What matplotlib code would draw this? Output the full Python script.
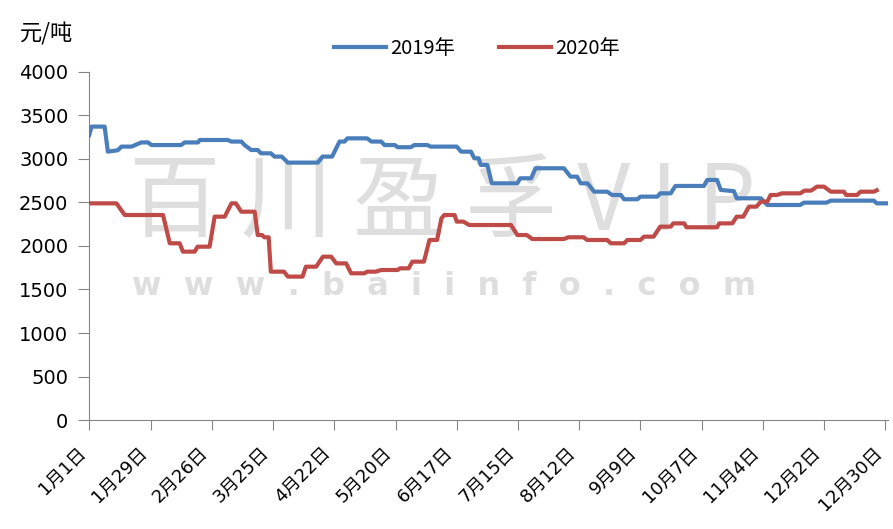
import matplotlib
matplotlib.use('Agg')
import matplotlib.pyplot as plt

plt.rcParams['font.family'] = ['DejaVu Sans', 'Noto Sans CJK SC']

# day offsets from 1月1日 and price (元/吨)
days_2019 = [0, 1, 7, 8.5, 13, 14.7, 19.3, 23.8, 26.9, 28.4, 42, 43.6, 49.7, 50.5, 63.4, 64.9,
             69.5, 71, 74, 77, 78.5, 83, 84.7, 88, 90.8, 104.5, 106.6, 111, 114.4, 116.7, 118,
             127, 129, 133.4, 135, 139.7, 141, 147, 148.6, 154.6, 156, 168, 170, 174.5, 176,
             178, 179, 182, 184, 195.7, 197, 202, 204, 217, 220, 223, 224.7, 227.8, 230.8,
             236.8, 239, 243, 244.5, 250.6, 252, 259.7, 261, 265.8, 268, 281, 282.5, 287,
             288.7, 294.7, 296, 307, 310, 325, 326.7, 337, 339, 358.7, 360, 364.6]
price_2019 = [3276, 3372, 3372, 3084, 3100, 3142, 3142, 3190, 3190, 3160, 3160, 3190, 3190, 3218,
              3218, 3200, 3200, 3160, 3103, 3103, 3065, 3065, 3027, 3027, 2958, 2958, 3027, 3027,
              3200, 3200, 3237, 3237, 3200, 3200, 3160, 3160, 3135, 3135, 3160, 3160, 3142, 3142,
              3084, 3084, 3008, 3008, 2931, 2931, 2720, 2720, 2778, 2778, 2893, 2893, 2797, 2797,
              2720, 2720, 2624, 2624, 2586, 2586, 2537, 2537, 2567, 2567, 2605, 2605, 2690, 2690,
              2759, 2759, 2644, 2630, 2548, 2548, 2471, 2471, 2498, 2498, 2521, 2521, 2490, 2490]

days_2020 = [0, 12.4, 16.2, 33.7, 36.8, 41.3, 42.8, 48.2, 49.5, 55, 57.3, 61.9, 65, 67, 69.5,
             75.6, 77, 79, 80, 82, 83, 89, 90.8, 97.5, 99, 103.7, 106.8, 110.6, 112.9, 117.4,
             119.7, 125.8, 127, 131, 133.4, 141, 142, 146, 147.7, 153, 155.5, 159, 161, 162.3,
             167, 168, 171, 173.7, 192.8, 195.7, 200, 202.5, 217, 219, 226, 227.6, 236.8, 238.4,
             244.5, 246, 252, 253.6, 258, 261, 265.8, 267, 272, 273, 287, 288, 294, 296, 299,
             301.6, 305, 307, 310, 311.5, 314.4, 316.7, 325, 327, 330, 332.7, 335.9, 339, 345,
             346, 351, 352.6, 358.7, 360]
price_2020 = [2490, 2490, 2356, 2356, 2031, 2031, 1935, 1935, 1992, 1992, 2337, 2337, 2490, 2490,
              2394, 2394, 2126, 2126, 2100, 2100, 1705, 1705, 1648, 1648, 1762, 1762, 1877, 1877,
              1800, 1800, 1686, 1686, 1705, 1705, 1724, 1724, 1743, 1743, 1820, 1820, 2069, 2069,
              2318, 2356, 2356, 2280, 2280, 2241, 2241, 2126, 2126, 2080, 2080, 2100, 2100, 2069,
              2069, 2031, 2031, 2069, 2069, 2107, 2107, 2222, 2222, 2260, 2260, 2215, 2215, 2260,
              2260, 2337, 2337, 2452, 2452, 2510, 2510, 2586, 2586, 2605, 2605, 2636, 2636, 2682,
              2682, 2624, 2624, 2586, 2586, 2624, 2624, 2640]

tick_days = [0, 28, 56, 84, 112, 140, 168, 196, 224, 252, 280, 308, 336, 364]
tick_labels = ['1月1日', '1月29日', '2月26日', '3月25日', '4月22日', '5月20日', '6月17日',
               '7月15日', '8月12日', '9月9日', '10月7日', '11月4日', '12月2日', '12月30日']

fig = plt.figure(figsize=(8.93, 5.29), dpi=100)
ax = fig.add_axes([0.1, 0.206, 0.894, 0.658])

# watermark
ax.text(0.442, 0.62, '百 川 盈 孚 V I P', transform=ax.transAxes, fontsize=66,
        family=['Noto Sans CJK SC', 'DejaVu Sans'], color='#dedede',
        ha='center', va='center', zorder=0)
ax.text(0.445, 0.385, 'w  w  w  .  b  a  i  i  n  f  o  .  c  o  m', transform=ax.transAxes,
        fontsize=23, fontweight='bold', color='#dedede', ha='center', va='center', zorder=0)

ax.plot(days_2019, price_2019, color='#4a7ebb', linewidth=3, label='2019年', zorder=3)
ax.plot(days_2020, price_2020, color='#be4b48', linewidth=3, label='2020年', zorder=3)

ax.set_xlim(0, 365)
ax.set_ylim(0, 4000)
ax.set_yticks(range(0, 4001, 500))
ax.set_xticks(tick_days)
ax.set_xticklabels(tick_labels, rotation=45, ha='right', fontsize=13)
ax.tick_params(axis='y', labelsize=14, length=8, color='#868686', pad=7)
ax.tick_params(axis='x', length=7, color='#868686', pad=10)

for side in ['top', 'right']:
    ax.spines[side].set_visible(False)
for side in ['left', 'bottom']:
    ax.spines[side].set_color('#868686')

fig.text(0.022, 0.935, '元/吨', fontsize=16, family=['Noto Sans CJK SC'], ha='left', va='center')
fig.legend(loc='center', bbox_to_anchor=(0.534, 0.909), ncol=2, frameon=False,
           prop={'family': ['Noto Sans CJK SC'], 'size': 14.5},
           handlelength=2.6, handletextpad=0.2, columnspacing=2.2)

fig.savefig('out.png', dpi=100)
